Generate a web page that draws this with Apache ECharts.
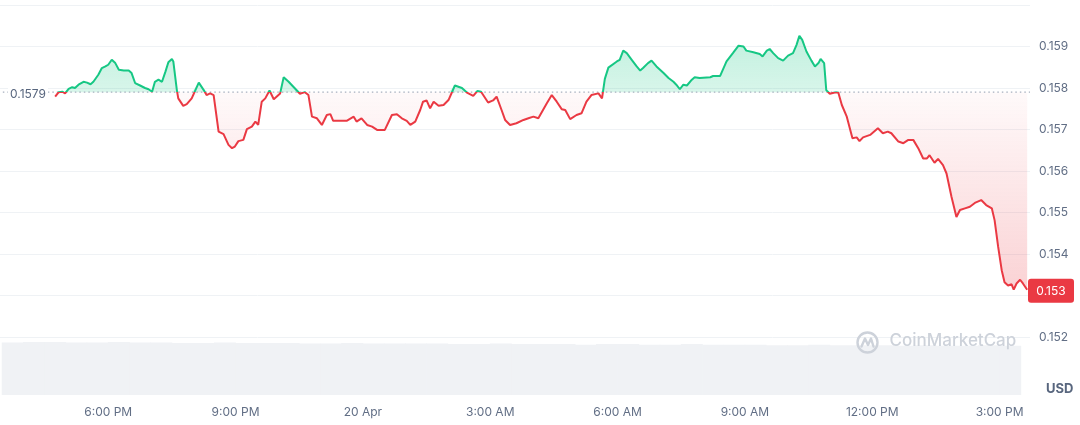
<!DOCTYPE html>
<html><head><meta charset="utf-8">
<script src="https://cdn.jsdelivr.net/npm/echarts@6/dist/echarts.min.js"></script>
<style>html,body{margin:0;padding:0;background:#fff}#c{width:1080px;height:425px}</style>
</head><body><div id="c"></div>
<script>
// minutes since 19 Apr 00:00
const times = [1005,1010,1015,1019,1024,1029,1033,1038,1045,1050,
1055,1059,1066,1071,1076,1080,1085,1090,1095,1102,
1109,1113,1118,1125,1132,1137,1142,1146,1151,1156,
1161,1165,1170,1172,1177,1179,1186,1191,1198,1208,
1215,1219,1224,1229,1236,1243,1250,1255,1259,1264,
1271,1276,1283,1288,1292,1297,1302,1308,1314,1323,
1328,1335,1351,1358,1363,1368,1375,1382,1389,1394,
1398,1408,1417,1427,1431,1438,1446,1453,1460,1471,
1481,1488,1495,1502,1507,1514,1521,1525,1530,1535,
1540,1547,1554,1561,1570,1580,1587,1596,1602,1607,
1617,1624,1629,1636,1641,1648,1657,1667,1674,1681,
1688,1700,1707,1714,1721,1726,1733,1742,1749,1756,
1763,1773,1778,1782,1787,1789,1799,1803,1808,1813,
1820,1827,1832,1836,1843,1848,1855,1865,1872,1879,
1883,1888,1893,1898,1905,1909,1916,1931,1935,1945,
1954,1963,1971,1978,1982,1992,2001,2005,2011,2015,
2020,2027,2034,2041,2048,2053,2057,2061,2067,2074,
2079,2084,2087,2092,2095,2100,2107,2112,2117,2124,
2132,2138,2142,2147,2157,2168,2175,2182,2187,2197,
2204,2211,2218,2225,2232,2237,2241,2248,2253,2260,
2265,2272,2279,2284,2291,2298,2305,2314,2321,2329,
2333,2338,2343,2347,2352,2357,2360,2364,2369,2373,2379];

const prices = [0.15779,0.15790,0.15791,0.15787,0.15798,0.15802,0.15800,0.15808,0.15815,0.15813,
0.15809,0.15815,0.15832,0.15848,0.15852,0.15856,0.15868,0.15860,0.15844,0.15842,
0.15842,0.15836,0.15812,0.15806,0.15800,0.15797,0.15791,0.15815,0.15820,0.15815,
0.15840,0.15862,0.15870,0.15864,0.15795,0.15775,0.15757,0.15761,0.15775,0.15813,
0.15795,0.15783,0.15787,0.15783,0.15695,0.15689,0.15663,0.15655,0.15659,0.15672,
0.15675,0.15701,0.15707,0.15719,0.15711,0.15767,0.15775,0.15794,0.15773,0.15787,
0.15826,0.15815,0.15786,0.15790,0.15783,0.15731,0.15727,0.15711,0.15735,0.15737,
0.15721,0.15721,0.15721,0.15731,0.15719,0.15727,0.15711,0.15707,0.15699,0.15699,
0.15735,0.15737,0.15727,0.15721,0.15711,0.15719,0.15747,0.15767,0.15770,0.15751,
0.15767,0.15757,0.15759,0.15771,0.15806,0.15800,0.15789,0.15781,0.15793,0.15791,
0.15765,0.15770,0.15779,0.15747,0.15723,0.15711,0.15715,0.15723,0.15727,0.15731,
0.15727,0.15763,0.15783,0.15767,0.15749,0.15747,0.15725,0.15735,0.15739,0.15767,
0.15783,0.15787,0.15775,0.15822,0.15849,0.15852,0.15864,0.15868,0.15890,0.15884,
0.15868,0.15852,0.15842,0.15848,0.15860,0.15866,0.15852,0.15836,0.15824,0.15815,
0.15808,0.15797,0.15808,0.15806,0.15820,0.15826,0.15824,0.15826,0.15829,0.15829,
0.15864,0.15884,0.15902,0.15900,0.15890,0.15886,0.15882,0.15876,0.15890,0.15894,
0.15884,0.15872,0.15866,0.15878,0.15884,0.15904,0.15926,0.15916,0.15888,0.15866,
0.15852,0.15860,0.15870,0.15860,0.15795,0.15786,0.15789,0.15789,0.15759,0.15731,
0.15679,0.15681,0.15672,0.15681,0.15687,0.15703,0.15691,0.15695,0.15691,0.15671,
0.15667,0.15675,0.15675,0.15655,0.15630,0.15630,0.15638,0.15620,0.15629,0.15614,
0.15594,0.15538,0.15489,0.15506,0.15510,0.15514,0.15523,0.15530,0.15518,0.15510,
0.15481,0.15417,0.15361,0.15332,0.15324,0.15327,0.15314,0.15329,0.15338,0.15329,0.15314];

const baseline = 0.1579;
const tickMinutes = [1080,1260,1440,1620,1800,1980,2160,2340];
const tickLabels = ['6:00 PM','9:00 PM','20 Apr','3:00 AM','6:00 AM','9:00 AM','12:00 PM','3:00 PM'];
const priceTicks = [0.152,0.153,0.154,0.155,0.156,0.157,0.158,0.159];

const volTimes = [945,975,1005,1035,1065,1095,1125,1155,1185,1215,1245,1275,1305,1335,1365,1395,1425,1455,1485,1515,1545,1575,1605,1635,1665,1695,1725,1755,1785,1815,1845,1875,1905,1935,1965,1995,2025,2055,2085,2115,2145,2175,2205,2235,2265,2295,2325,2355];
const volumes = [99,100,100,99,99,100,99,99,98,98,99,98,98,98,97,97,98,97,97,97,97,96,96,97,96,96,96,95,96,96,95,95,96,95,95,95,94,94,95,94,94,94,93,94,93,93,94,93];

const xMin = 927, xMax = 2383;
const GREEN = '#16c784', RED = '#ea3943', TXT = '#616e85';
const FONT = 'Inter, "Noto Sans", sans-serif';
const H = 425;

const lineData = times.map((t, i) => [t, prices[i]]);
const upData = times.map((t, i) => [t, Math.max(prices[i], baseline)]);
const dnData = times.map((t, i) => [t, Math.min(prices[i], baseline)]);
const baseData = [[xMin + 4, baseline], [xMax, baseline]];
const last = prices[prices.length - 1];

const chart = echarts.init(document.getElementById('c'), null, {renderer: 'canvas'});
chart.setOption({
  animation: false,
  grid: [
    {left: 0, right: 50, top: 5, height: 332},
    {left: 0, right: 50, top: 342, bottom: 30}
  ],
  xAxis: [
    {type: 'value', gridIndex: 0, min: xMin, max: xMax, axisLine: {show: false}, axisTick: {show: false}, axisLabel: {show: false}, splitLine: {show: false}},
    {type: 'value', gridIndex: 1, min: xMin, max: xMax, axisLine: {show: false}, axisTick: {show: false}, splitLine: {show: false},
      axisLabel: {customValues: tickMinutes, formatter: v => { const i = tickMinutes.indexOf(Math.round(v)); return i >= 0 ? tickLabels[i] : ''; },
        color: TXT, fontSize: 12, fontFamily: FONT, margin: 11}}
  ],
  yAxis: [
    {type: 'value', gridIndex: 0, position: 'right', min: 0.152, max: 0.160, interval: 0.001,
      axisLine: {show: false}, axisTick: {show: false},
      splitLine: {lineStyle: {color: '#eff2f5', width: 1}},
      axisLabel: {formatter: v => { const m = priceTicks.find(p => Math.abs(p - v) < 1e-7); return m !== undefined ? m.toFixed(3) : ''; },
        color: TXT, fontSize: 12, fontFamily: FONT, margin: 9}},
    {type: 'value', gridIndex: 1, min: 0, max: 100, show: false}
  ],
  series: [
    {type: 'line', data: dnData, showSymbol: false, silent: true, z: 1,
      lineStyle: {opacity: 0},
      areaStyle: {origin: baseline, color: new echarts.graphic.LinearGradient(0, 0, 0, 1, [
        {offset: 0, color: 'rgba(234,57,67,0.04)'}, {offset: 1, color: 'rgba(234,57,67,0.32)'}])}
    },
    {type: 'line', data: upData, showSymbol: false, silent: true, z: 1,
      lineStyle: {opacity: 0},
      areaStyle: {origin: baseline, color: new echarts.graphic.LinearGradient(0, 0, 0, 1, [
        {offset: 0, color: 'rgba(22,199,132,0.38)'}, {offset: 1, color: 'rgba(22,199,132,0.24)'}])}
    },
    {id: 'price', type: 'line', data: lineData, showSymbol: false, z: 4, lineStyle: {width: 2, color: RED}, itemStyle: {color: RED}},
    {type: 'line', data: baseData, showSymbol: false, silent: true, z: 2,
      lineStyle: {type: [1.5, 3], color: '#a7b0bf', width: 1.3}, itemStyle: {color: '#a7b0bf'}},
    {type: 'bar', xAxisIndex: 1, yAxisIndex: 1, data: volTimes.map((t, i) => [t, volumes[i]]),
      barWidth: 22, silent: true, z: 0, itemStyle: {color: '#f0f2f5'}}
  ]
});

const bp = chart.convertToPixel({xAxisIndex: 0, yAxisIndex: 0}, [xMin, baseline]);
const lp = chart.convertToPixel({xAxisIndex: 0, yAxisIndex: 0}, [xMax, last]);
const off = bp[1] / H;
const WM = '#cdd2da';
chart.setOption({
  series: [{id: 'price', lineStyle: {color: new echarts.graphic.LinearGradient(0, 0, 0, H, [
    {offset: 0, color: GREEN}, {offset: off, color: GREEN}, {offset: off, color: RED}, {offset: 1, color: RED}], true)}}],
  graphic: [
    {type: 'text', left: 8, top: bp[1] - 5, zlevel: 1, z: 100,
      style: {text: baseline.toFixed(4), fill: '#58667e', font: '12px ' + FONT, backgroundColor: '#fff', padding: [1, 2]}},
    {type: 'group', left: lp[0] - 2, top: lp[1] - 11, zlevel: 1, z: 100, children: [
      {type: 'rect', z: 100, zlevel: 1, shape: {x: 0, y: 0, width: 46, height: 24, r: 3}, style: {fill: RED}},
      {type: 'text', z: 101, zlevel: 1, x: 23, y: 12.5, style: {text: last.toFixed(3), fill: '#fff', font: '12px ' + FONT, align: 'center', verticalAlign: 'middle'}}
    ]},
    {type: 'text', left: 1046, top: 383, zlevel: 1, z: 100,
      style: {text: 'USD', fill: '#58667e', font: 'bold 13px ' + FONT}},
    {type: 'group', left: 855, top: 330, zlevel: 1, z: 100, children: [
      {type: 'circle', zlevel: 1, z: 100, shape: {cx: 11, cy: 11, r: 10}, style: {fill: 'none', stroke: WM, lineWidth: 2.4}},
      {type: 'polyline', zlevel: 1, z: 100, shape: {points: [[5, 15], [8.5, 7], [11.5, 13.5], [14.5, 7], [17, 15]]}, style: {fill: 'none', stroke: WM, lineWidth: 2.4, lineJoin: 'round', lineCap: 'round'}},
      {type: 'text', zlevel: 1, z: 100, x: 33, y: 1, style: {text: 'CoinMarketCap', fill: WM, font: '500 17px ' + FONT}}
    ]}
  ]
});
</script>
</body></html>
